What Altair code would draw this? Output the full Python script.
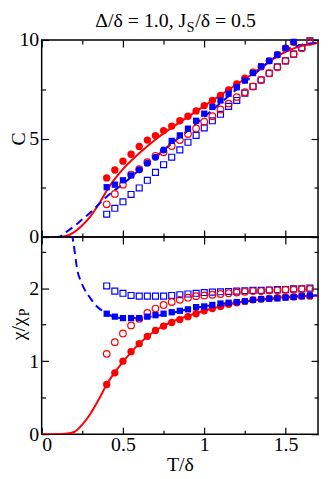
import altair as alt
import pandas as pd

# ---------------- data ----------------
T_pts = [0.40, 0.45, 0.50, 0.55, 0.60, 0.65, 0.70, 0.75, 0.80, 0.85, 0.90, 0.95, 1.00,
         1.05, 1.10, 1.15, 1.20, 1.25, 1.30, 1.35, 1.40, 1.45, 1.50, 1.55, 1.60, 1.65]

# top panel (C)
C_red_filled = [3.0, 3.4, 3.85, 4.2, 4.6, 4.92, 5.15, 5.4, 5.63, 5.9, 6.13, 6.4, 6.67,
                6.93, 7.19, 7.47, 7.77, 8.06, 8.36, 8.64, 8.94, 9.25, 9.58, 9.88]
C_red_open = [1.66, 2.19, 2.66, 3.17, 3.45, 3.8, 4.12, 4.3, 4.62, 4.92, 5.23, 5.51, 5.85,
              6.13, 6.47, 6.77, 7.1, 7.35, 7.64, 7.97, 8.31, 8.61, 8.94, 9.28, 9.58, 9.91]
C_blue_open = [1.16, 1.46, 1.79, 2.16, 2.49, 2.88, 3.28, 3.67, 4.05, 4.42, 4.81, 5.16, 5.54,
               5.9, 6.23, 6.63, 6.93, 7.3, 7.64, 7.97, 8.31, 8.64, 8.94, 9.28, 9.61, 9.95]
T_blue_sq_top = [0.40, 0.45, 0.50, 0.55, 0.80, 0.85, 0.90, 0.95, 1.00, 1.05, 1.10, 1.15,
                 1.20, 1.25, 1.30, 1.35, 1.40, 1.45, 1.50, 1.55]
C_blue_sq = [2.53, 2.66, 2.88, 3.13, 4.88, 5.16, 5.5, 5.9, 6.26, 6.6, 6.93, 7.27,
             7.6, 7.94, 8.32, 8.66, 8.94, 9.25, 9.58, 9.9]
T_blue_circ_top = [0.60, 0.65, 0.70, 0.75]
C_blue_circ = [3.42, 3.75, 4.05, 4.42]

T_red_line_top = [0.0, 0.10, 0.15, 0.20, 0.25, 0.30, 0.35, 0.40, 0.45, 0.50, 0.60, 0.70,
                  0.80, 0.90, 1.00, 1.10, 1.20, 1.30, 1.40, 1.50, 1.60, 1.70]
C_red_line = [0.0, 0.0, 0.05, 0.25, 0.6, 1.05, 1.65, 2.35, 2.95, 3.45, 4.25, 4.95,
              5.55, 6.1, 6.65, 7.2, 7.75, 8.3, 8.9, 9.4, 9.7, 9.85]
T_blue_line_top = [0.0, 0.10, 0.15, 0.20, 0.25, 0.30, 0.35, 0.40, 0.50, 0.60, 0.70, 0.80,
                   0.90, 1.00, 1.10, 1.20, 1.30, 1.40, 1.50, 1.60, 1.70]
C_blue_line = [0.0, 0.0, 0.25, 0.55, 0.9, 1.25, 1.65, 2.05, 2.7, 3.4, 4.05, 4.75,
               5.4, 6.1, 6.8, 7.5, 8.2, 8.9, 9.5, 9.75, 9.87]

# bottom panel (chi/chi_P)
X_red_filled = [0.68, 0.84, 1.0, 1.13, 1.24, 1.34, 1.42, 1.48, 1.53, 1.57, 1.61, 1.65, 1.69,
                1.72, 1.75, 1.78, 1.80, 1.82, 1.84, 1.85, 1.86, 1.87, 1.88, 1.88, 1.89, 1.89]
X_red_open = [1.10, 1.26, 1.38, 1.49, 1.58, 1.66, 1.72, 1.77, 1.81, 1.84, 1.87, 1.89, 1.90,
              1.91, 1.92, 1.93, 1.94, 1.95, 1.96, 1.96, 1.97, 1.97, 1.98, 1.98, 1.99, 1.99]
X_blue_open = [2.03, 1.96, 1.93, 1.90, 1.89, 1.89, 1.89, 1.89, 1.90, 1.91, 1.92, 1.93, 1.94,
               1.945, 1.95, 1.955, 1.96, 1.965, 1.97, 1.97, 1.975, 1.98, 1.98, 1.99, 1.99, 2.0]
X_blue_filled = [1.65, 1.61, 1.59, 1.59, 1.59, 1.61, 1.63, 1.65, 1.67, 1.69, 1.71, 1.74, 1.75,
                 1.77, 1.79, 1.80, 1.81, 1.82, 1.84, 1.85, 1.855, 1.86, 1.87, 1.88, 1.89, 1.90]

T_red_line_bot = [0.0, 0.10, 0.15, 0.20, 0.25, 0.30, 0.35, 0.40, 0.45, 0.50, 0.60, 0.70,
                  0.80, 0.90, 1.00, 1.10, 1.20, 1.30, 1.40, 1.50, 1.60, 1.70]
X_red_line = [0.0, 0.0, 0.005, 0.03, 0.13, 0.28, 0.47, 0.68, 0.85, 0.99, 1.24, 1.42,
              1.54, 1.62, 1.69, 1.75, 1.80, 1.83, 1.86, 1.88, 1.89, 1.90]
T_blue_line_bot = [0.175, 0.19, 0.20, 0.22, 0.24, 0.26, 0.30, 0.33, 0.38, 0.40, 0.50, 0.60,
                   0.70, 0.80, 0.90, 1.00, 1.20, 1.40, 1.60, 1.70]
X_blue_line = [3.1, 2.7, 2.55, 2.24, 2.1, 2.0, 1.86, 1.77, 1.68, 1.65, 1.59, 1.59,
               1.62, 1.66, 1.71, 1.75, 1.81, 1.85, 1.89, 1.90]

X_MAJ = [0, 0.5, 1, 1.5]
X_MIN = [0.25, 0.75, 1.25]
YT_MAJ = [0, 5, 10]
YT_MIN = [2.5, 7.5]
YB_MAJ = [0, 1, 2]
YB_MIN = [0.5, 1.5, 2.5]

TITLE_LEFT = "Δ/δ = 1.0, J"
TITLE_SUB = "S"
TITLE_RIGHT = "/δ = 0.5"

# ---------------- style ----------------
W, H = 279, 199
FONT = "Liberation Serif"
RED = "#ff0000"
BLUE = "#0000ff"

xscale = alt.Scale(domain=[0, 1.7], nice=False, zero=False)
yscale_top = alt.Scale(domain=[0, 10], nice=False, zero=False)
yscale_bot = alt.Scale(domain=[0, 2.7], nice=False, zero=False)


def df(xs, ys):
    return pd.DataFrame({"T": xs, "v": ys})


def line(d, color, dash=None, ys=None):
    kw = dict(color=color, strokeWidth=2, clip=True, interpolate="monotone")
    if dash:
        kw["strokeDash"] = dash
    return alt.Chart(d).mark_line(**kw).encode(
        x=alt.X("T:Q", scale=xscale, axis=None),
        y=alt.Y("v:Q", scale=ys, axis=None),
    )


def pts(d, shape, filled, color, size, ys):
    kw = dict(shape=shape, filled=filled, color=color, size=size, opacity=1)
    if not filled:
        kw["strokeWidth"] = 1.2
    return alt.Chart(d).mark_point(**kw).encode(
        x=alt.X("T:Q", scale=xscale, axis=None),
        y=alt.Y("v:Q", scale=ys, axis=None),
    )


def tick_axis(orient, offset, values, size):
    return alt.Axis(orient=orient, offset=offset, values=values, tickSize=size,
                    labels=False, domain=False, grid=False, title=None,
                    tickColor="black", tickWidth=1.2, minExtent=0)


def axis_layers(ys, ymaj, ymin, bottom_labels):
    d0 = df([0.5], [0.1])
    if bottom_labels:
        xa = alt.Axis(orient="bottom", values=X_MAJ, format="~g", ticks=False, tickSize=0,
                      domain=False, grid=False, title="T/δ", labelPadding=1,
                      titlePadding=0, minExtent=0)
    else:
        xa = None
    ya = alt.Axis(orient="left", values=ymaj, format="d", ticks=False, tickSize=0,
                  domain=False, grid=False, title=None, labelPadding=3, minExtent=0)
    layers = [alt.Chart(d0).mark_point(opacity=0).encode(
        x=alt.X("T:Q", scale=xscale, axis=xa), y=alt.Y("v:Q", scale=ys, axis=ya))]
    for xv, yv, sz in [(X_MAJ, ymaj, 7), (X_MIN, ymin, 4)]:
        layers.append(alt.Chart(d0).mark_point(opacity=0).encode(
            x=alt.X("T:Q", scale=xscale, axis=tick_axis("top", -H, xv, sz)),
            y=alt.Y("v:Q", scale=ys, axis=tick_axis("right", -W, yv, sz))))
        layers.append(alt.Chart(d0).mark_point(opacity=0).encode(
            x=alt.X("T:Q", scale=xscale, axis=tick_axis("bottom", -H, xv, sz)),
            y=alt.Y("v:Q", scale=ys, axis=tick_axis("left", -W, yv, sz))))
    return layers


def text(t, x, y, size, align="center", angle=0):
    return alt.Chart(pd.DataFrame({"a": [0]})).mark_text(
        text=t, font=FONT, fontSize=size, align=align, baseline="alphabetic",
        angle=angle, color="black").encode(x=alt.value(x), y=alt.value(y))


top = alt.layer(
    line(df(T_red_line_top, C_red_line), RED, ys=yscale_top),
    line(df(T_blue_line_top, C_blue_line), BLUE, dash=[8, 5], ys=yscale_top),
    pts(df(T_pts, C_blue_open), "square", False, BLUE, 36, yscale_top),
    pts(df(T_pts, C_red_open), "circle", False, RED, 45, yscale_top),
    pts(df(T_pts[:len(C_red_filled)], C_red_filled), "circle", True, RED, 55, yscale_top),
    pts(df(T_blue_sq_top, C_blue_sq), "square", True, BLUE, 40, yscale_top),
    pts(df(T_blue_circ_top, C_blue_circ), "circle", True, BLUE, 50, yscale_top),
    *axis_layers(yscale_top, YT_MAJ, YT_MIN, False),
    text(TITLE_LEFT, 146, -13, 20, align="right"),
    text(TITLE_SUB, 146.5, -8, 14, align="left"),
    text(TITLE_RIGHT, 155, -13, 20, align="left"),
    text("C", -17, 100, 20, angle=270),
).resolve_axis(x="independent", y="independent").properties(width=W, height=H)

bottom = alt.layer(
    line(df(T_red_line_bot, X_red_line), RED, ys=yscale_bot),
    line(df(T_blue_line_bot, X_blue_line), BLUE, dash=[8, 5], ys=yscale_bot),
    pts(df(T_pts, X_blue_open), "square", False, BLUE, 36, yscale_bot),
    pts(df(T_pts, X_red_open), "circle", False, RED, 45, yscale_bot),
    pts(df(T_pts, X_red_filled), "circle", True, RED, 55, yscale_bot),
    pts(df(T_pts, X_blue_filled), "square", True, BLUE, 40, yscale_bot),
    *axis_layers(yscale_bot, YB_MAJ, YB_MIN, True),
    text("χ/χ", -17, 81, 20, align="right", angle=270),
    text("P", -13, 80, 14, align="left", angle=270),
).resolve_axis(x="independent", y="independent").properties(width=W, height=H)

chart = alt.vconcat(top, bottom, spacing=0, bounds="flush").properties(
    padding=0
).configure_view(
    stroke="black", strokeWidth=1.5
).configure_axis(
    labelFont=FONT, labelFontSize=20, labelColor="black",
    titleFont=FONT, titleFontSize=20, titleColor="black", titleFontWeight="normal",
)

chart.save("out.html", embed_options={"renderer": "svg", "actions": False})
